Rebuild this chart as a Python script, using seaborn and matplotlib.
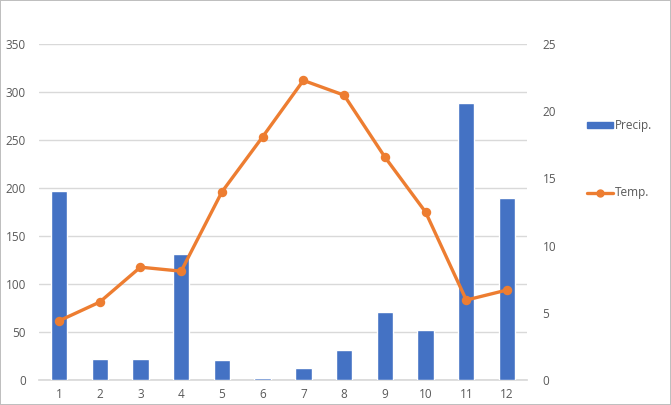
import numpy as np
import pandas as pd
import matplotlib
matplotlib.use('Agg')
import matplotlib.pyplot as plt
import seaborn as sns
from matplotlib.patches import Patch
from matplotlib.lines import Line2D

# --- dados ---
meses = ['1', '2', '3', '4', '5', '6', '7', '8', '9', '10', '11', '12']
precip = [197, 22, 22, 131, 21, 2, 13, 31, 70.5, 52, 289, 190]
temp = [4.4, 5.8, 8.4, 8.1, 14.0, 18.1, 22.3, 21.2, 16.6, 12.5, 5.95, 6.7]

cor_barra = '#4472C4'
cor_linha = '#ED7D31'
cor_grade = '#D9D9D9'
cor_texto = '#595959'

sns.set_theme(style='white')
plt.rcParams['font.family'] = ['Open Sans', 'DejaVu Sans']
plt.rcParams['font.size'] = 8.5

df = pd.DataFrame({'mes': meses, 'precip': precip, 'temp': temp})

fig = plt.figure(figsize=(6.71, 4.05), dpi=100, edgecolor='#BFBFBF', linewidth=1.2)
ax = fig.add_axes([0.0575, 0.0617, 0.7285, 0.8293])

sns.barplot(data=df, x='mes', y='precip', color=cor_barra, width=0.4,
            saturation=1, ax=ax, zorder=3)
ax.set_ylim(0, 350)
ax.set_yticks(range(0, 351, 50))
ax.yaxis.grid(True, color=cor_grade, linewidth=1)
ax.set_axisbelow(True)
ax.set_xlabel('')
ax.set_ylabel('')
for s in ['top', 'right', 'left']:
    ax.spines[s].set_visible(False)
ax.spines['bottom'].set_color(cor_grade)
ax.spines['bottom'].set_zorder(1)
ax.tick_params(axis='y', length=0, pad=9, labelcolor=cor_texto, labelsize=8.5)
ax.tick_params(axis='x', length=0, pad=6, labelcolor=cor_texto, labelsize=8.5)

ax2 = ax.twinx()
sns.pointplot(data=df, x='mes', y='temp', color=cor_linha, ax=ax2,
              markers='o', markersize=5, linewidth=2.4)
ax2.set_ylim(0, 25)
ax2.set_yticks(range(0, 26, 5))
ax2.set_ylabel('')
for s in ['top', 'right', 'left', 'bottom']:
    ax2.spines[s].set_visible(False)
ax2.tick_params(axis='y', length=0, pad=11, labelcolor=cor_texto, labelsize=8.5)
ax.set_xlim(-0.5, 11.5)

handles = [Patch(facecolor=cor_barra, edgecolor=cor_barra),
           Line2D([0], [0], color=cor_linha, linewidth=2.4, marker='o', markersize=5)]
leg = fig.legend(handles, ['Precip.', 'Temp.'], loc='upper left',
                 bbox_to_anchor=(0.859, 0.732), frameon=False, fontsize=8.5,
                 labelspacing=4.6, handlelength=2.2, handleheight=0.5,
                 handletextpad=0.15, labelcolor=cor_texto)

fig.savefig('out.png', dpi=100)
